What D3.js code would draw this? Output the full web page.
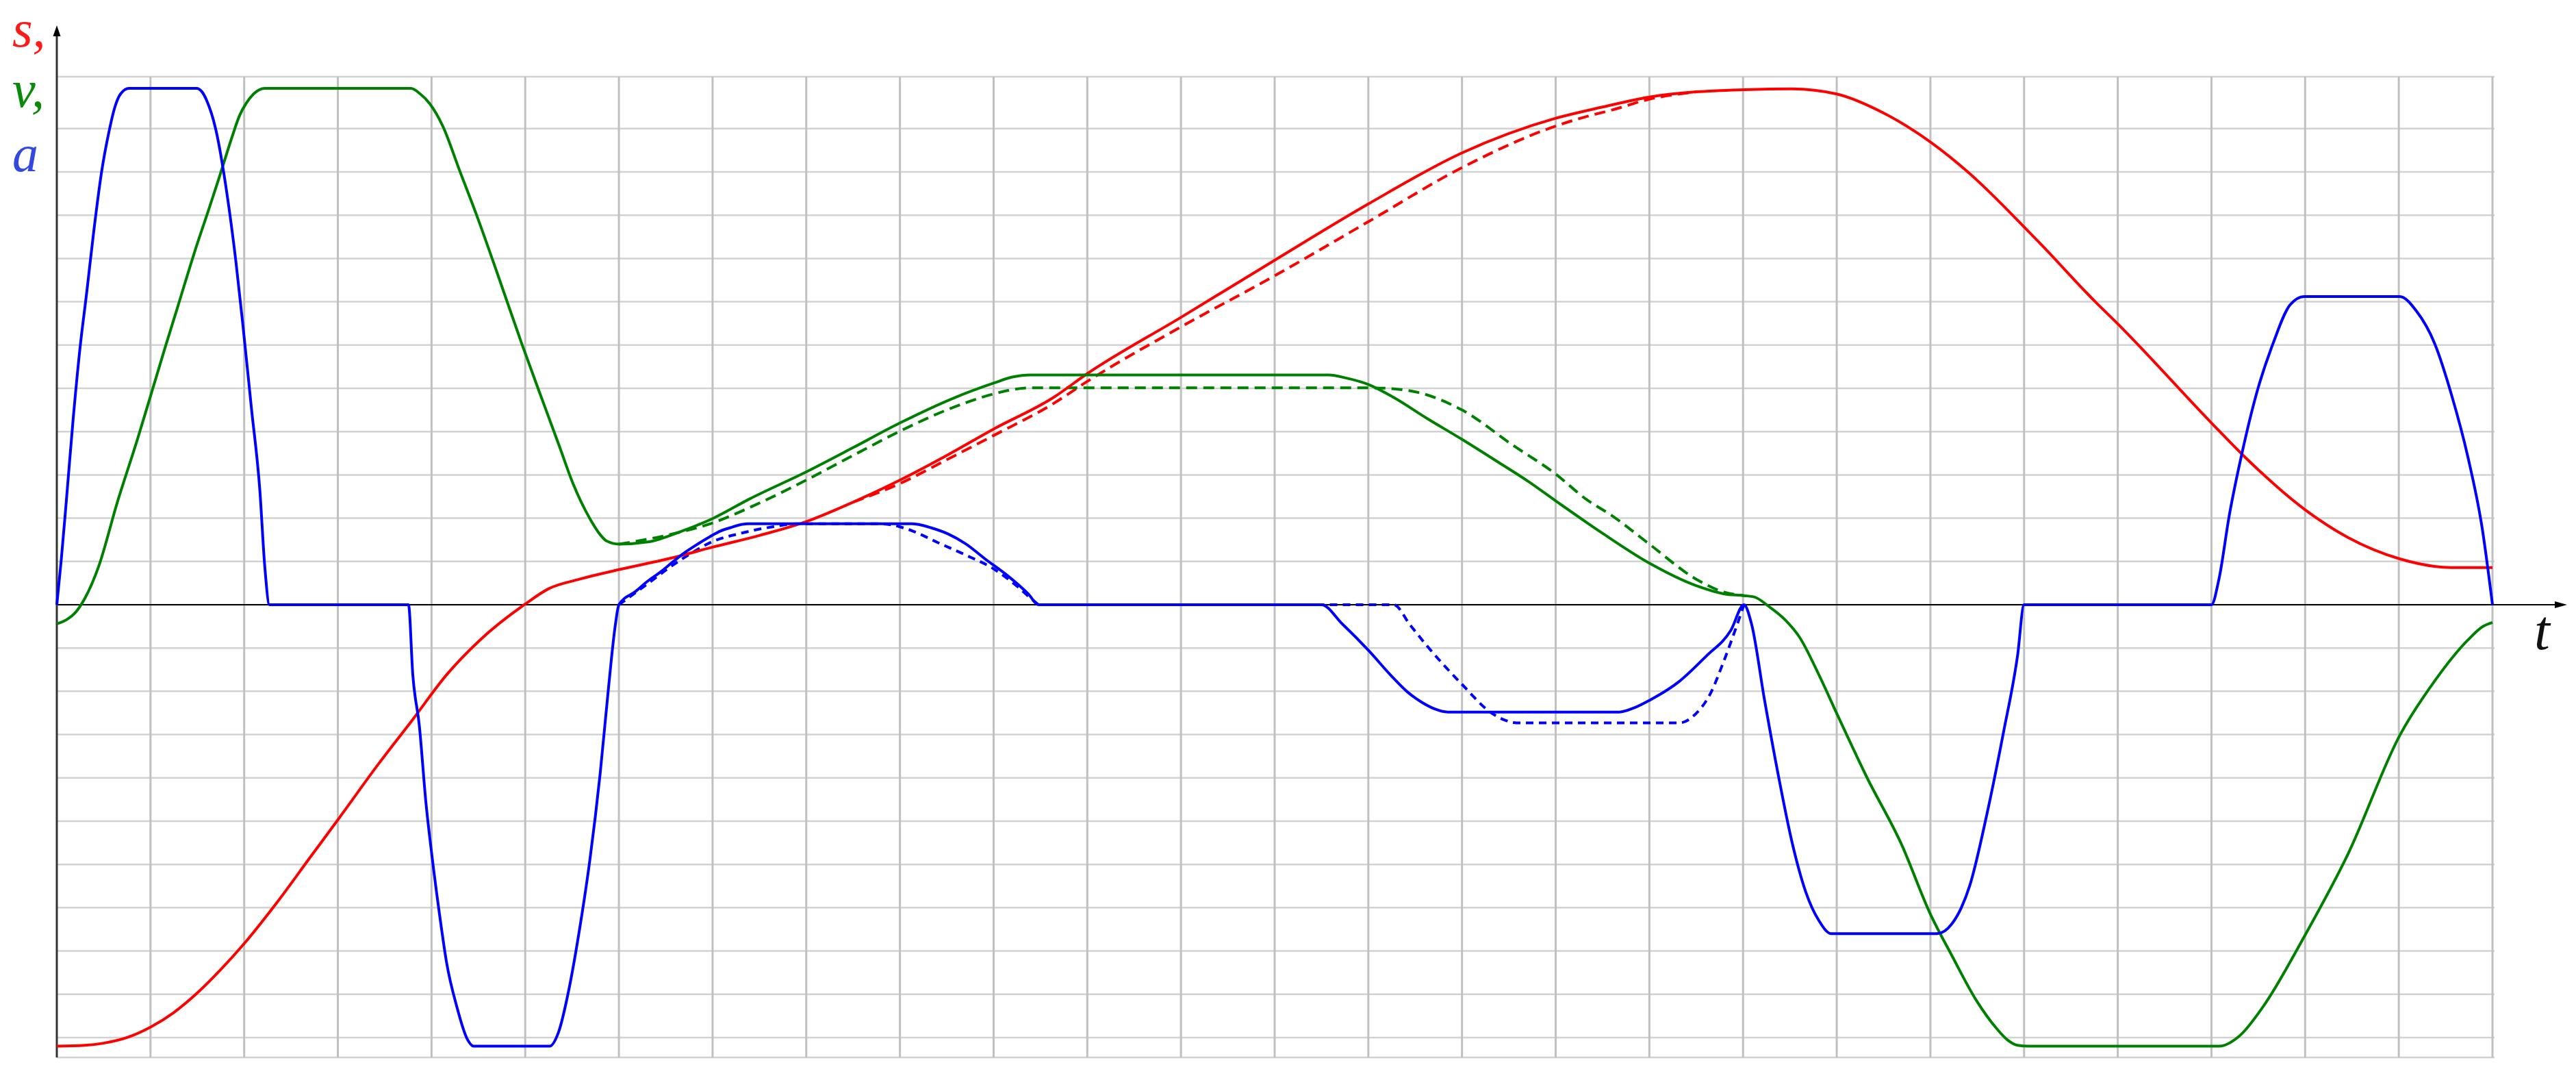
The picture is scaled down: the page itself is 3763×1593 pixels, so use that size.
<!DOCTYPE html>
<html>
<head>
<meta charset="utf-8">
<script src="https://cdn.jsdelivr.net/npm/d3@7"></script>
<style>
body { margin: 0; background: #fff; }
svg { display: block; }
</style>
</head>
<body>
<svg id="chart" width="3763" height="1593"></svg>
<script>
// time in grid columns, values in grid rows (0 = t axis)
let colTicks = d3.range(1, 27);
let rowTicks = d3.range(-10, 12);

let aSolid = [[0,0],[0.047,1.03],[0.1,2.36],[0.174,4.28],[0.246,5.9],[0.32,7.23],[0.39,8.55],[0.48,10.03],[0.554,10.9],[0.62,11.5],[0.68,11.8],[0.77,11.93],
  [1.49,11.93],[1.55,11.85],[1.6,11.65],[1.696,10.99],[1.82,9.44],[1.91,7.96],[1.985,6.49],[2.076,4.57],[2.167,2.65],[2.22,0.88],[2.27,0],
  [3.754,0],[3.8,-1.62],[3.87,-2.8],[3.94,-4.57],[4.01,-5.9],[4.09,-7.23],[4.16,-8.26],[4.27,-9.29],[4.38,-10.03],[4.45,-10.2],
  [5.26,-10.2],[5.355,-9.88],[5.47,-8.85],[5.58,-7.5],[5.69,-5.9],[5.8,-3.9],[5.89,-1.9],[5.96,-0.5],[6,0],
  [6.18,0.31],[6.31,0.55],[6.44,0.75],[6.57,0.98],[6.7,1.2],[6.84,1.4],[6.97,1.57],[7.08,1.7],[7.19,1.78],[7.28,1.84],[7.38,1.87],
  [9.13,1.87],[9.23,1.84],[9.33,1.78],[9.51,1.64],[9.7,1.41],[9.92,1.04],[10.15,0.67],[10.37,0.25],[10.48,0],
  [13.5,0],[13.72,-0.44],[14,-1.05],[14.27,-1.7],[14.42,-2.02],[14.56,-2.24],[14.7,-2.4],[14.85,-2.48],
  [16.68,-2.48],[16.84,-2.38],[17,-2.21],[17.32,-1.77],[17.61,-1.18],[17.87,-0.59],[18.01,0],
  [18.09,-0.44],[18.23,-2.21],[18.38,-3.98],[18.52,-5.46],[18.67,-6.64],[18.81,-7.3],[18.94,-7.6],
  [20.07,-7.6],[20.23,-7.37],[20.33,-7.0],[20.42,-6.49],[20.6,-4.87],[20.78,-2.95],[20.93,-1.18],[21,0],
  [23,0],[23.08,0.59],[23.19,2.06],[23.33,3.54],[23.48,4.87],[23.66,6.05],[23.84,6.93],[23.99,7.12],
  [25.01,7.12],[25.19,6.78],[25.38,6.05],[25.56,4.87],[25.74,3.39],[25.89,1.77],[26,0]];

let aDashed = [[6,0],[6.33,0.52],[6.52,0.83],[6.78,1.2],[7,1.46],[7.3,1.65],[7.64,1.8],[7.9,1.87],
  [8.8,1.87],[9,1.8],[9.14,1.7],[9.4,1.44],[9.7,1.15],[10,0.83],[10.26,0.41],[10.43,0.09],[10.49,0],
  [14.27,0],[14.45,-0.48],[14.63,-0.96],[15,-1.84],[15.32,-2.51],[15.45,-2.66],[15.58,-2.73],
  [17.32,-2.73],[17.5,-2.51],[17.65,-2.06],[17.79,-1.33],[17.94,-0.44],[18.01,0]];

let vSolid = [[0,-0.44],[0.1,-0.35],[0.21,-0.15],[0.3,0.15],[0.446,0.88],[0.645,2.36],[0.862,3.83],[1.007,4.87],[1.15,5.9],[1.297,6.93],[1.478,8.2],[1.623,9.14],[1.73,9.85],[1.877,10.85],[1.95,11.3],[2.02,11.58],[2.1,11.8],[2.22,11.93],
  [3.78,11.93],[3.88,11.8],[3.98,11.58],[4.12,11.06],[4.3,10.03],[4.49,8.95],[4.7,7.67],[4.96,6.05],[5.21,4.57],[5.36,3.69],[5.51,2.8],[5.69,1.99],[5.8,1.62],[5.87,1.47],[6,1.4],
  [6.31,1.45],[6.67,1.7],[7,1.99],[7.4,2.45],[8,3.07],[8.5,3.63],[9,4.2],[9.59,4.79],[10,5.12],[10.2,5.26],[10.39,5.31],
  [13.58,5.31],[13.76,5.24],[14,5.09],[14.27,4.79],[14.63,4.3],[15,3.82],[15.36,3.33],[15.72,2.83],[16,2.4],[16.5,1.65],[17,0.96],[17.5,0.44],[17.8,0.25],[18.01,0.21],[18.12,0.18],
  [18.27,-0.03],[18.45,-0.35],[18.6,-0.74],[18.81,-1.62],[19,-2.51],[19.32,-3.98],[19.69,-5.53],[20,-7.15],[20.23,-8.11],[20.49,-9.14],[20.71,-9.8],[20.82,-10.05],[20.93,-10.18],[21.05,-10.2],
  [23.08,-10.2],[23.3,-9.96],[23.55,-9.29],[23.99,-7.67],[24.46,-5.75],[25.01,-3.02],[25.38,-1.77],[25.74,-0.81],[25.9,-0.5],[26,-0.41]];

let vDashed = [[6,1.4],[6.5,1.6],[7,1.89],[7.5,2.35],[8,2.88],[8.5,3.45],[9,4.01],[9.5,4.5],[10,4.87],[10.2,4.97],[10.39,5.01],
  [14.05,5.01],[14.45,4.94],[15,4.5],[15.54,3.69],[16,3.02],[16.33,2.43],[16.6,2.06],[17,1.4],[17.5,0.59],[17.8,0.29],[18.01,0.21]];

let sSolid = [[0,-10.2],[0.3,-10.18],[0.5,-10.13],[0.75,-10.0],[1,-9.76],[1.25,-9.42],[1.5,-8.97],[1.75,-8.43],[2,-7.83],[2.35,-6.88],[2.71,-5.82],[3,-4.97],[3.43,-3.69],[3.8,-2.65],[4.16,-1.62],[4.52,-0.81],[4.99,0],
  [5.25,0.37],[5.58,0.59],[6,0.81],[6.6,1.1],[7,1.33],[7.5,1.6],[8,1.92],[8.5,2.37],[9,2.88],[9.5,3.45],[10,4.06],[10.64,4.79],[11,5.34],[12,6.64],[13,7.96],[14,9.26],[15,10.44],[16,11.24],[16.5,11.5],[17,11.73],[17.5,11.85],[18.01,11.9],[18.52,11.92],
  [19,11.8],[19.5,11.36],[20,10.69],[20.42,9.96],[21,8.73],[21.18,8.33],[21.76,7.0],[22,6.49],[23,4.2],[23.33,3.47],[23.99,2.21],[24.46,1.55],[25.01,1.06],[25.56,0.86],[26,0.86]];

let sDashed = [[8.5,2.37],[9,2.8],[9.5,3.35],[10,3.91],[10.64,4.65],[11,5.16],[12,6.42],[13,7.6],[14,8.85],[15,10.1],[16,11.06],[16.33,11.28],[16.6,11.43],[17,11.68],[17.5,11.85]];

let axisLabels = [{text: "s,", color: "#ff1a1a"}, {text: "v,", color: "#0a8a0a"}, {text: "a", color: "#3348e0"}];

let svg = d3.select("#chart");

let x = d3.scaleLinear().domain([0, 26]).range([83, 3641]);
let y = d3.scaleLinear().domain([-10.46, 12.2]).range([1544, 112]);

// grid
let grid = svg.append("g");
grid.selectAll(".hgrid")
    .data(rowTicks.concat([12.2, -10.46])).enter()
    .append("line")
    .attr("x1", x(0)).attr("x2", x(26) + 3)
    .attr("y1", d => y(d)).attr("y2", d => y(d))
    .style("stroke", "#d2d2d2")
    .style("stroke-width", 2.5);
grid.selectAll(".vgrid")
    .data(colTicks).enter()
    .append("line")
    .attr("x1", d => x(d)).attr("x2", d => x(d))
    .attr("y1", y(12.2)).attr("y2", y(-10.46))
    .style("stroke", "#c0c0c0")
    .style("stroke-width", 3);

// axes with arrows
svg.append("line")
    .attr("x1", x(0)).attr("x2", 3735)
    .attr("y1", y(0)).attr("y2", y(0))
    .style("stroke", "#000").style("stroke-width", 2);
svg.append("path")
    .attr("d", "M3750," + y(0) + "L3732," + (y(0) - 5) + "L3732," + (y(0) + 5) + "Z")
    .style("fill", "#000");
svg.append("line")
    .attr("x1", x(0)).attr("x2", x(0))
    .attr("y1", y(-10.46)).attr("y2", 50)
    .style("stroke", "#333").style("stroke-width", 3);
svg.append("path")
    .attr("d", "M" + x(0) + ",37L" + (x(0) - 5.5) + ",53L" + (x(0) + 5.5) + ",53Z")
    .style("fill", "#000");

svg.selectAll(".ylab")
    .data(axisLabels).enter()
    .append("text")
    .attr("x", 18)
    .attr("y", (d, i) => [68, 156, 250][i])
    .style("font-family", "'Liberation Serif', 'DejaVu Serif', serif")
    .style("font-style", "italic")
    .style("font-size", "76px")
    .style("fill", d => d.color)
    .text(d => d.text);

svg.append("text")
    .attr("x", 3702).attr("y", 948)
    .style("font-family", "'Liberation Serif', 'DejaVu Serif', serif")
    .style("font-style", "italic")
    .style("font-size", "82px")
    .style("fill", "#111")
    .text("t");

let line = d3.line()
    .curve(d3.curveMonotoneX)
    .x(d => x(d[0]))
    .y(d => y(d[1]));

let curves = [
  {data: sDashed, color: "#ff0000", dash: "16,9"},
  {data: vDashed, color: "#008000", dash: "16,9"},
  {data: aDashed, color: "#0000ff", dash: "11,8"},
  {data: sSolid, color: "#ff0000", dash: null},
  {data: vSolid, color: "#008000", dash: null},
  {data: aSolid, color: "#0000ff", dash: null}
];

svg.append("g").selectAll("path")
    .data(curves).enter()
    .append("path")
    .attr("d", d => line(d.data))
    .style("fill", "none")
    .style("stroke", d => d.color)
    .style("stroke-width", 4)
    .style("stroke-linejoin", "round")
    .style("stroke-dasharray", d => d.dash);
</script>
</body>
</html>
